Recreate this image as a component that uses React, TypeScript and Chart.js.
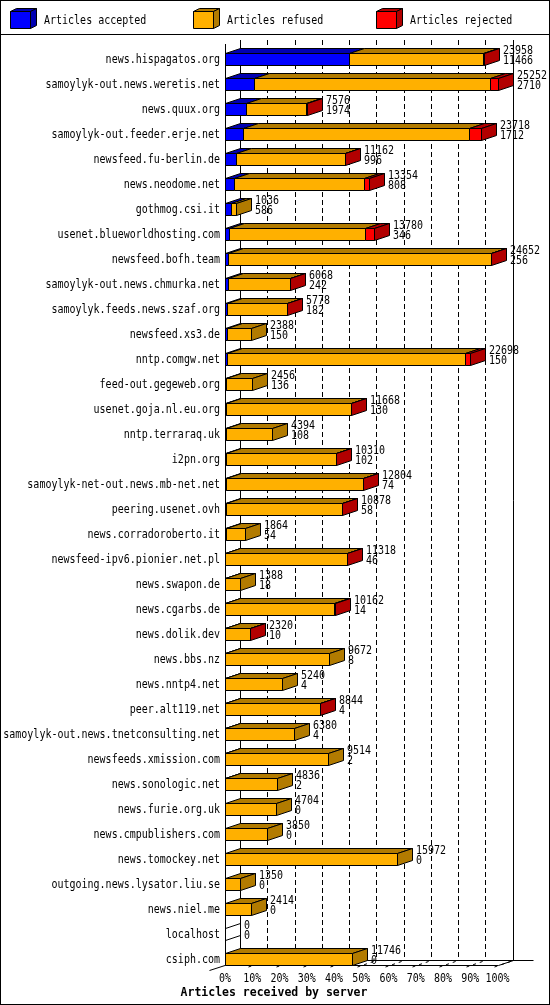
import React, { useEffect, useRef } from "react";
import { Chart, registerables } from "chart.js";

Chart.register(...registerables);

const servers = [
  "news.hispagatos.org",
  "samoylyk-out.news.weretis.net",
  "news.quux.org",
  "samoylyk-out.feeder.erje.net",
  "newsfeed.fu-berlin.de",
  "news.neodome.net",
  "gothmog.csi.it",
  "usenet.blueworldhosting.com",
  "newsfeed.bofh.team",
  "samoylyk-out.news.chmurka.net",
  "samoylyk.feeds.news.szaf.org",
  "newsfeed.xs3.de",
  "nntp.comgw.net",
  "feed-out.gegeweb.org",
  "usenet.goja.nl.eu.org",
  "nntp.terraraq.uk",
  "i2pn.org",
  "samoylyk-net-out.news.mb-net.net",
  "peering.usenet.ovh",
  "news.corradoroberto.it",
  "newsfeed-ipv6.pionier.net.pl",
  "news.swapon.de",
  "news.cgarbs.de",
  "news.dolik.dev",
  "news.bbs.nz",
  "news.nntp4.net",
  "peer.alt119.net",
  "samoylyk-out.news.tnetconsulting.net",
  "newsfeeds.xmission.com",
  "news.sonologic.net",
  "news.furie.org.uk",
  "news.cmpublishers.com",
  "news.tomockey.net",
  "outgoing.news.lysator.liu.se",
  "news.niel.me",
  "localhost",
  "csiph.com",
];

// total articles offered by each server (upper number next to a bar)
const offered = [
  23958, 25252, 7576, 23718, 11162, 13354, 1036, 13780, 24652, 6068, 5778, 2388,
  22698, 2456, 11668, 4394, 10310, 12804, 10878, 1864, 11318, 1388, 10162, 2320,
  9672, 5240, 8844, 6380, 9514, 4836, 4704, 3850, 15972, 1350, 2414, 0, 11746,
];

// accepted (lower number next to a bar)
const accepted = [
  11466, 2710, 1974, 1712, 996, 808, 586, 346, 256, 242, 182, 150, 150, 136, 130,
  108, 102, 74, 58, 54, 46, 18, 14, 10, 8, 4, 4, 4, 2, 2, 0, 0, 0, 0, 0, 0, 0,
];

// rejected, estimated from the red part of each bar
const rejected = [
  60, 680, 40, 1080, 40, 460, 0, 770, 40, 30, 30, 0, 430, 0, 30, 0, 30, 30, 30, 0,
  30, 0, 20, 10, 0, 0, 10, 0, 0, 0, 0, 0, 0, 0, 0, 0, 0,
];

const percentTicks = [0, 10, 20, 30, 40, 50, 60, 70, 80, 90, 100];

const seriesLabels = ["Articles accepted", "Articles refused", "Articles rejected"];
const faceColors = ["#0000ff", "#ffb000", "#ff0000"];
const shadeColors = ["#0000b2", "#b27b00", "#b20000"];
const xTitle = "Articles received by server";

const FONT = '"DejaVu Sans Mono", monospace';
const DX = 15;
const DY = 5;
const STRETCH = 1.17; // the old bitmap font is taller than DejaVu at the same width

const maxOffered = Math.max(...offered);
const refused = offered.map((t, i) => t - accepted[i] - rejected[i]);
const toPct = (v: number) => (v / maxOffered) * 100;

const poly = (ctx, pts, fill) => {
  ctx.beginPath();
  pts.forEach(([x, y], i) => (i ? ctx.lineTo(x + 0.5, y + 0.5) : ctx.moveTo(x + 0.5, y + 0.5)));
  ctx.closePath();
  if (fill) {
    ctx.fillStyle = fill;
    ctx.fill();
  }
  ctx.stroke();
};

const line = (ctx, x1, y1, x2, y2) => {
  ctx.beginPath();
  ctx.moveTo(x1, y1);
  ctx.lineTo(x2, y2);
  ctx.stroke();
};

const text = (ctx, s, x, y, align = "left") => {
  ctx.save();
  ctx.translate(x, y);
  ctx.scale(1, STRETCH);
  ctx.textAlign = align;
  ctx.textBaseline = "alphabetic";
  ctx.fillText(s, 0, 0);
  ctx.restore();
};

const frontBox = (yc: number) => {
  const top = Math.floor(yc - 6);
  return { top, bot: top + 12 };
};

// draws the whole 3d look: frame, legend, bars and the texts next to them
const box3d = {
  id: "box3d",
  beforeDraw(chart) {
    const { ctx } = chart;
    const xs = chart.scales.x;
    const ys = chart.scales.y;
    ctx.save();
    ctx.fillStyle = "#fff";
    ctx.fillRect(0, 0, chart.width, chart.height);
    ctx.strokeStyle = "#000";
    ctx.lineWidth = 1;
    ctx.strokeRect(0.5, 0.5, chart.width - 1, chart.height - 1);
    line(ctx, 0, 34.5, chart.width, 34.5);

    // legend
    const legendX = [10, 193, 376];
    ctx.font = `10px ${FONT}`;
    seriesLabels.forEach((label, k) => {
      const x = legendX[k];
      const y = 11;
      poly(ctx, [[x, y], [x + 20, y], [x + 20, y + 17], [x, y + 17]], faceColors[k]);
      poly(ctx, [[x, y], [x + 6, y - 3], [x + 26, y - 3], [x + 20, y]], shadeColors[k]);
      poly(ctx, [[x + 20, y], [x + 26, y - 3], [x + 26, y + 14], [x + 20, y + 17]], shadeColors[k]);
      ctx.fillStyle = "#000";
      text(ctx, label, x + 34, 24);
    });

    // back wall and floor
    const x0 = Math.round(xs.getPixelForValue(0));
    const x100 = Math.round(xs.getPixelForValue(100));
    const last = frontBox(ys.getPixelForValue(servers.length - 1));
    const floorFront = last.bot + 0.5;
    const floorBack = floorFront - DY;
    const wallTop = 40;

    ctx.setLineDash([5, 3]);
    percentTicks.slice(1, -1).forEach((v) => {
      const x = Math.round(xs.getPixelForValue(v)) + DX + 0.5;
      line(ctx, x, wallTop, x, floorBack);
    });
    ctx.setLineDash([3, 4]);
    percentTicks.slice(1).forEach((v) => {
      const x = Math.round(xs.getPixelForValue(v)) + 0.5;
      line(ctx, x - 4, floorFront + 1.5, x + DX, floorBack);
    });
    ctx.setLineDash([]);
    line(ctx, x0 + DX + 0.5, wallTop, x0 + DX + 0.5, floorBack);
    line(ctx, x100 + DX + 0.5, wallTop, x100 + DX + 0.5, floorBack);
    line(ctx, x0 + 0.5, wallTop + 4, x0 + 0.5, floorFront);
    line(ctx, x0 + DX + 0.5, floorBack, x100 + DX + 20.5, floorBack);
    line(ctx, x0 + 0.5, floorFront, x100 + 0.5, floorFront);
    line(ctx, x100 + 0.5, floorFront, x100 + DX + 0.5, floorBack);
    line(ctx, x0 - DX - 0.5, floorFront + DY, x0 + DX + 0.5, floorBack);

    // axis texts, placed with the chart's scales
    ctx.fillStyle = "#000";
    servers.forEach((name, i) => {
      const { top } = frontBox(ys.getPixelForValue(i));
      text(ctx, name, ys.right - 5, top + 10, "right");
    });
    percentTicks.forEach((v) => {
      text(ctx, `${v}%`, xs.getPixelForValue(v), 981.5, "center");
    });
    ctx.restore();
  },
  beforeDatasetsDraw(chart) {
    const { ctx } = chart;
    const metas = chart.data.datasets.map((_, k) => chart.getDatasetMeta(k));
    ctx.save();
    ctx.strokeStyle = "#000";
    ctx.lineWidth = 1;
    servers.forEach((_, i) => {
      const { top, bot } = frontBox(metas[0].data[i].y);
      let endX = Math.round(metas[0].data[i].base);
      let lastK = -1;
      metas.forEach((meta, k) => {
        const value = chart.data.datasets[k].data[i];
        if (!(value > 0)) return;
        const el = meta.data[i];
        const xa = Math.round(el.base);
        const xb = Math.round(el.x);
        poly(ctx, [[xa, top], [xb, top], [xb, bot], [xa, bot]], faceColors[k]);
        poly(ctx, [[xa, top], [xa + DX, top - DY], [xb + DX, top - DY], [xb, top]], shadeColors[k]);
        endX = xb;
        lastK = k;
      });
      poly(
        ctx,
        [[endX, top], [endX + DX, top - DY], [endX + DX, bot - DY], [endX, bot]],
        lastK >= 0 ? shadeColors[lastK] : null
      );
    });
    ctx.restore();
    return false;
  },
  afterDraw(chart) {
    const { ctx } = chart;
    const metas = chart.data.datasets.map((_, k) => chart.getDatasetMeta(k));
    ctx.save();
    ctx.fillStyle = "#000";
    ctx.font = `10px ${FONT}`;
    servers.forEach((_, i) => {
      const { top } = frontBox(metas[0].data[i].y);
      const endX = Math.round(metas[2].data[i].x);
      text(ctx, String(offered[i]), endX + DX + 4, top + 1);
      text(ctx, String(accepted[i]), endX + DX + 4, top + 11);
    });
    ctx.font = `bold 11.5px ${FONT}`;
    ctx.textAlign = "center";
    ctx.textBaseline = "alphabetic";
    ctx.fillText(xTitle, 274, 996);
    ctx.restore();
  },
};

export default function App() {
  const canvasRef = useRef<HTMLCanvasElement>(null);

  useEffect(() => {
    document.body.style.margin = "0";
    if (!canvasRef.current) return;

    const datasets = [accepted, refused, rejected].map((values, k) => ({
      label: seriesLabels[k],
      data: values.map(toPct),
      backgroundColor: faceColors[k],
      barThickness: 12,
    }));

    const chart = new Chart(canvasRef.current, {
      type: "bar",
      data: { labels: servers, datasets },
      options: {
        indexAxis: "y",
        responsive: false,
        animation: false,
        devicePixelRatio: 1,
        layout: { padding: { top: 47.5, right: 52.5, bottom: 13, left: 0 } },
        scales: {
          x: {
            stacked: true,
            min: 0,
            max: 100,
            grid: { display: false, drawTicks: false },
            border: { display: false },
            ticks: { display: false, stepSize: 10 },
            afterFit: (s) => {
              s.height = 20;
            },
          },
          y: {
            stacked: true,
            grid: { display: false, drawTicks: false },
            border: { display: false },
            ticks: { display: false, autoSkip: false },
            afterFit: (s) => {
              s.width = 225;
            },
          },
        },
        plugins: {
          legend: { display: false },
          tooltip: { enabled: false },
        },
      },
      plugins: [box3d],
    });

    return () => chart.destroy();
  }, []);

  return (
    <div style={{ width: 550, height: 1005 }}>
      <canvas ref={canvasRef} width={550} height={1005} />
    </div>
  );
}
